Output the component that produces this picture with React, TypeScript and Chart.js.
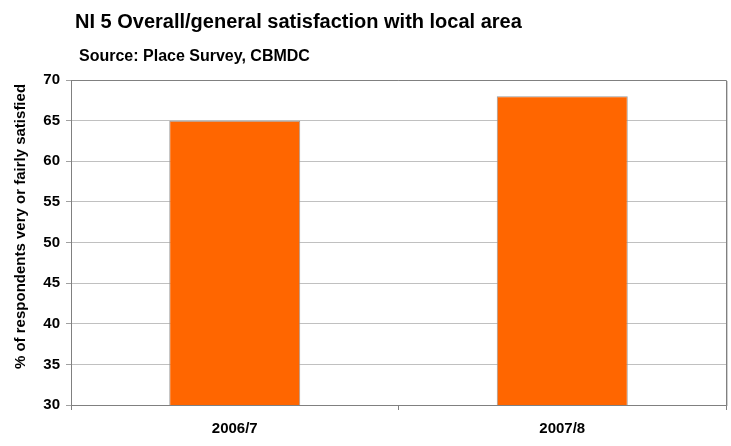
import React, { useEffect, useRef } from "react";
import { Chart, registerables } from "chart.js";

Chart.register(...registerables);

const categories: string[] = ["2006/7", "2007/8"];
const satisfaction: number[] = [65, 68];
const titleText = "NI 5 Overall/general satisfaction with local area";
const subtitleText = "Source: Place Survey, CBMDC";
const yAxisTitle = "% of respondents very or fairly satisfied";
const yMin = 30;
const yMax = 70;
const yStep = 5;

const FONT = "'Liberation Sans', Arial, Helvetica, sans-serif";

const headerPlugin = {
  id: "header",
  afterDraw(chart: any) {
    const ctx = chart.ctx as CanvasRenderingContext2D;
    const { left, top, right, bottom } = chart.chartArea;
    ctx.save();
    // plot border (top and right)
    ctx.strokeStyle = "#808080";
    ctx.lineWidth = 1;
    ctx.beginPath();
    ctx.moveTo(left, top + 0.5);
    ctx.lineTo(Math.round(right) + 0.5, top + 0.5);
    ctx.lineTo(Math.round(right) + 0.5, bottom);
    ctx.stroke();
    ctx.strokeStyle = "#d0d0d0";
    ctx.beginPath();
    ctx.moveTo(Math.round(right) + 1.5, top + 1);
    ctx.lineTo(Math.round(right) + 1.5, bottom + 1);
    ctx.stroke();
    // titles
    ctx.fillStyle = "#000000";
    ctx.textAlign = "left";
    ctx.textBaseline = "alphabetic";
    ctx.font = `bold 20px ${FONT}`;
    ctx.fillText(titleText, 75, 27.5);
    ctx.font = `bold 16px ${FONT}`;
    ctx.fillText(subtitleText, 79, 61);
    // y axis title
    ctx.translate(25, 226.5);
    ctx.rotate(-Math.PI / 2);
    ctx.textAlign = "center";
    ctx.font = `bold 15px ${FONT}`;
    ctx.fillText(yAxisTitle, 0, 0);
    ctx.restore();
  },
};

export default function App() {
  const canvasRef = useRef<HTMLCanvasElement | null>(null);

  useEffect(() => {
    document.body.style.margin = "0";
    const canvas = canvasRef.current;
    if (!canvas) return;
    const chart = new Chart(canvas, {
      type: "bar",
      data: {
        labels: categories,
        datasets: [
          {
            data: satisfaction,
            backgroundColor: "#FF6600",
            borderColor: "#9a9a9a",
            borderWidth: 1,
            barPercentage: 0.4,
            categoryPercentage: 1,
          },
        ],
      },
      options: {
        animation: false,
        responsive: false,
        maintainAspectRatio: false,
        layout: { padding: { top: 80, right: 5, left: 0, bottom: 0 } },
        plugins: {
          legend: { display: false },
          tooltip: { enabled: false },
          title: { display: false },
        },
        scales: {
          x: {
            afterFit(scale: any) {
              scale.height = 41;
            },
            grid: {
              offset: true,
              drawOnChartArea: false,
              drawTicks: true,
              tickLength: 5,
              color: "#808080",
            },
            border: { display: true, color: "#808080" },
            ticks: {
              color: "#000000",
              padding: 10,
              font: { family: FONT, size: 15, weight: "bold" },
            },
          },
          y: {
            min: yMin,
            max: yMax,
            afterFit(scale: any) {
              scale.width = 71;
            },
            grid: {
              color: "#c0c0c0",
              tickColor: "#a0a0a0",
              tickLength: 5,
            },
            border: { display: true, color: "#808080" },
            ticks: {
              stepSize: yStep,
              color: "#000000",
              padding: 6,
              font: { family: FONT, size: 15, weight: "bold" },
            },
            title: { display: false },
          },
        },
      },
      plugins: [headerPlugin],
    });
    return () => chart.destroy();
  }, []);

  return (
    <div style={{ position: "absolute", left: 0, top: 0, width: 731, height: 446, background: "#ffffff" }}>
      <canvas ref={canvasRef} width={731} height={446} style={{ width: 731, height: 446, display: "block" }} />
    </div>
  );
}
